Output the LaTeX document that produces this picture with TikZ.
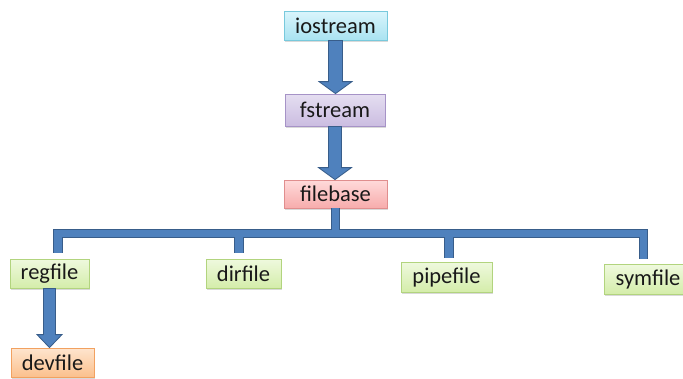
\documentclass[tikz,border=0pt]{standalone}
\usepackage{fontspec}
\setmainfont{Carlito}
\usetikzlibrary{calc,shadows}

\definecolor{arrowblue}{HTML}{4F81BD}
\definecolor{arrowedge}{HTML}{385D8A}
\definecolor{cyantop}{HTML}{DAF5FC}
\definecolor{cyanbot}{HTML}{A9E3F1}
\definecolor{cyanedge}{HTML}{78C9DC}
\definecolor{lilactop}{HTML}{E5DEF1}
\definecolor{lilacbot}{HTML}{CBBDE1}
\definecolor{lilacedge}{HTML}{A693C7}
\definecolor{pinktop}{HTML}{FFDADA}
\definecolor{pinkbot}{HTML}{F7ACAC}
\definecolor{pinkedge}{HTML}{E08E8E}
\definecolor{greentop}{HTML}{EFF9DE}
\definecolor{greenbot}{HTML}{D4EDAA}
\definecolor{greenedge}{HTML}{B2D47E}
\definecolor{orangetop}{HTML}{FEE5CE}
\definecolor{orangebot}{HTML}{FBC08D}
\definecolor{orangeedge}{HTML}{F2A160}

\tikzset{
  box/.style={rectangle, inner sep=0pt, line width=0.8pt,
    font=\fontsize{22.5}{26}\selectfont, text=black!90,
    drop shadow={shadow xshift=1.2pt, shadow yshift=-1.6pt, opacity=0.25, fill=black!60}},
  cyanbox/.style={box, draw=cyanedge, top color=cyantop, bottom color=cyanbot},
  lilacbox/.style={box, draw=lilacedge, top color=lilactop, bottom color=lilacbot},
  pinkbox/.style={box, draw=pinkedge, top color=pinktop, bottom color=pinkbot},
  greenbox/.style={box, draw=greenedge, top color=greentop, bottom color=greenbot},
  orangebox/.style={box, draw=orangeedge, top color=orangetop, bottom color=orangebot},
  % block arrow: shaft half width / head half width / head length
  blockarrow/.style args={#1/#2/#3}{draw=arrowedge, fill=arrowblue, line width=0.8pt,
    line join=miter,
    to path={let \p1=(\tikztostart), \p2=(\tikztotarget) in
      (\x1-#1,\y1) -- (\x1-#1,\y2+#3) -- (\x1-#2,\y2+#3) -- (\x1,\y2)
      -- (\x1+#2,\y2+#3) -- (\x1+#1,\y2+#3) -- (\x1+#1,\y1) -- cycle}},
  bus/.style={draw=arrowedge, line width=9.4pt, line join=miter,
    postaction={draw=arrowblue, line width=7.6pt}}
}

\begin{document}
\begin{tikzpicture}[x=1pt,y=-1pt]
  \useasboundingbox (0,0) rectangle (683,378);

  % class boxes
  \node[cyanbox, minimum width=103pt, minimum height=29pt] (iostream) at (335.5,25.5) {iostream};
  \node[lilacbox, minimum width=100pt, minimum height=32pt] (fstream) at (335,110) {fstream};
  \node[pinkbox, minimum width=103pt, minimum height=28pt] (filebase) at (335.5,194) {filebase};
  \node[greenbox, minimum width=79pt, minimum height=29pt] (regfile) at (49.5,273.5) {regfile};
  \node[greenbox, minimum width=75pt, minimum height=29pt] (dirfile) at (243.5,273.5) {dirfile};
  \node[greenbox, minimum width=91pt, minimum height=30pt] (pipefile) at (446.5,277) {pipefile};
  \node[greenbox, minimum width=88pt, minimum height=30pt] (symfile) at (648,279) {symfile};
  \node[orangebox, minimum width=83pt, minimum height=29pt] (devfile) at (52.5,362.5) {devfile};

  % inheritance arrows
  \draw[blockarrow=7pt/16.5pt/12pt] (iostream.south) to (fstream.north);
  \draw[blockarrow=6.5pt/16.5pt/12pt] (fstream.south) to (filebase.north);
  \draw[blockarrow=6pt/12.5pt/13pt] (regfile.south) to (regfile.south |- devfile.north);

  % branching connector below filebase
  \coordinate (bar) at (0,233.5);
  \coordinate (rdrop) at ([xshift=8.5pt,yshift=6pt]regfile.north);
  \coordinate (ddrop) at ([xshift=-4.5pt,yshift=6pt]dirfile.north);
  \coordinate (pdrop) at ([xshift=2.5pt,yshift=4pt]pipefile.north);
  \coordinate (sdrop) at ([xshift=-4.5pt,yshift=5pt]symfile.north);
  \draw[bus] (rdrop) -- (rdrop |- bar) -- (sdrop |- bar) -- (sdrop)
             (filebase.south) -- (filebase.south |- bar)
             (ddrop |- bar) -- (ddrop)
             (pdrop |- bar) -- (pdrop);
\end{tikzpicture}
\end{document}
